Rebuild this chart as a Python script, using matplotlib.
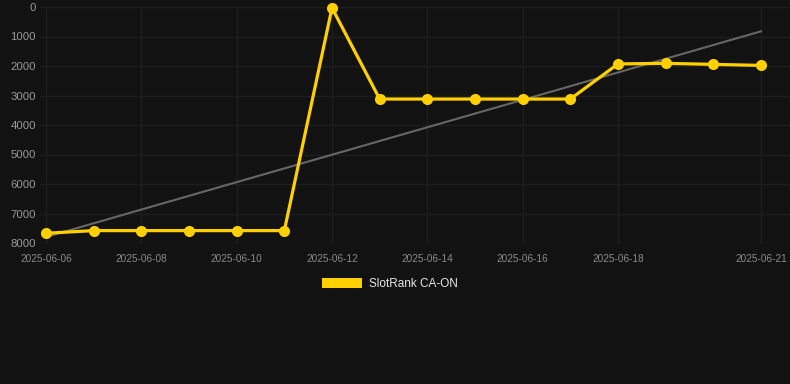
import numpy as np
import matplotlib
matplotlib.use("Agg")
import matplotlib.pyplot as plt
import matplotlib.dates as mdates
from matplotlib.patches import Patch
import datetime as dt

plt.rcParams['font.family'] = ['Liberation Sans', 'DejaVu Sans']

dates = ["2025-06-06", "2025-06-07", "2025-06-08", "2025-06-09", "2025-06-10",
         "2025-06-11", "2025-06-12", "2025-06-13", "2025-06-14", "2025-06-15",
         "2025-06-16", "2025-06-17", "2025-06-18", "2025-06-19", "2025-06-20",
         "2025-06-21"]
ranks = [7670, 7580, 7580, 7580, 7580, 7580, 30, 3120, 3120, 3120, 3120, 3120,
         1930, 1910, 1945, 1980]
xtick_labels = ["2025-06-06", "2025-06-08", "2025-06-10", "2025-06-12",
                "2025-06-14", "2025-06-16", "2025-06-18", "2025-06-21"]
yticks = [0, 1000, 2000, 3000, 4000, 5000, 6000, 7000, 8000]
series_name = "SlotRank CA-ON"

BG = "#121212"
YELLOW = "#FFD000"

W, H = 790, 384
fig = plt.figure(figsize=(W / 100, H / 100), dpi=100, facecolor=BG)
ax = fig.add_axes([40 / W, 1 - 243 / H, 750 / W, 236 / H], facecolor=BG)

x = mdates.date2num([dt.datetime.strptime(d, "%Y-%m-%d") for d in dates])
y = np.array(ranks, dtype=float)

# linear trend
coef = np.polyfit(x, y, 1)
ax.plot(x, np.polyval(coef, x), color="#666666", lw=1.5, zorder=2)

ax.plot(x, y, color=YELLOW, lw=2.3, marker="o", markersize=8,
        markeredgewidth=0, zorder=3, clip_on=False)

px_per_day = (x[-1] - x[0]) / 715.0
ax.set_xlim(x[0] - 6 * px_per_day, x[-1] + 29 * px_per_day)
ax.set_ylim(8000, 0)

xt = mdates.date2num([dt.datetime.strptime(d, "%Y-%m-%d") for d in xtick_labels])
ax.set_xticks(xt)
ax.set_xticklabels(xtick_labels)
ax.set_yticks(yticks)
ax.set_yticklabels([str(v) for v in yticks])

ax.tick_params(axis="x", length=0, pad=8, labelsize=7.2, colors="#8a8a8a")
ax.tick_params(axis="y", length=0, pad=3, labelsize=8.2, colors="#999999")
for s in ax.spines.values():
    s.set_visible(False)
ax.grid(True, color="#1e1e1e", lw=1.0)
ax.set_axisbelow(True)

leg = fig.legend(handles=[Patch(facecolor=YELLOW, edgecolor="none")],
                 labels=[series_name], loc="center",
                 bbox_to_anchor=(390 / W, 1 - 284 / H), frameon=False,
                 fontsize=8.5, handlelength=3.4, handleheight=1.0,
                 handletextpad=0.6, labelcolor="#e6e6e6")

fig.savefig("out.png", dpi=100, facecolor=BG)
